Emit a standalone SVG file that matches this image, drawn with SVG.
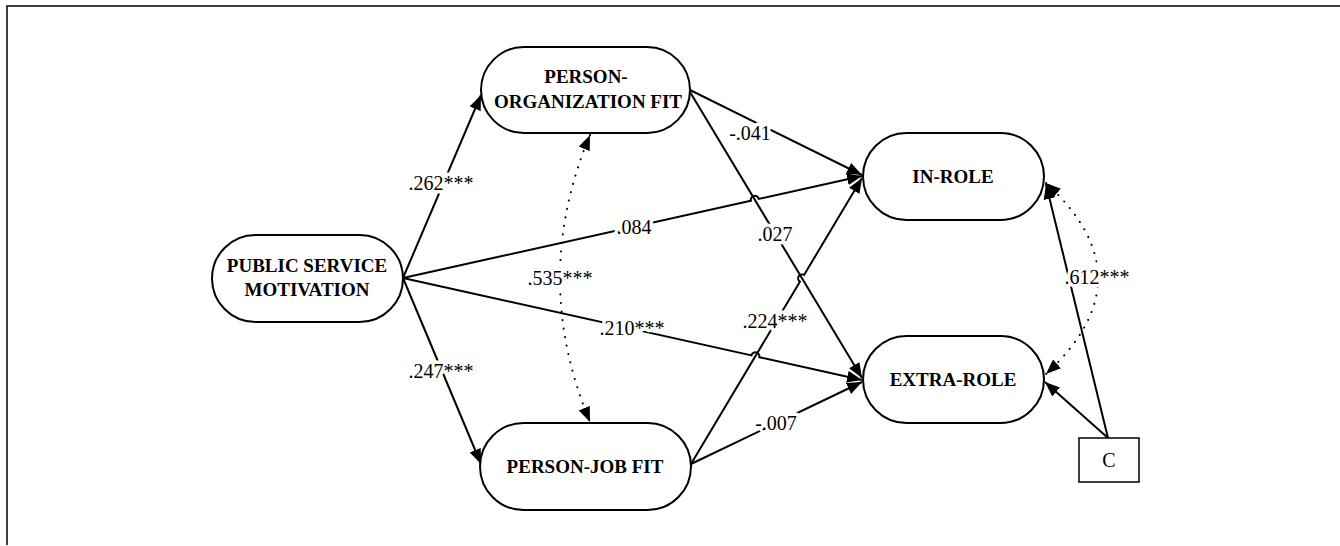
<svg xmlns="http://www.w3.org/2000/svg" width="1340" height="546" viewBox="0 0 1340 546">
<style>
.node{fill:#fff;stroke:#000;stroke-width:2}
.nt{font-family:"Liberation Serif","DejaVu Serif",serif;font-weight:bold;font-size:19px;text-anchor:middle;fill:#000}
.ct{font-family:"Liberation Serif","DejaVu Serif",serif;font-size:20px;text-anchor:middle;fill:#000}
.ln{fill:none;stroke:#000;stroke-width:2;marker-end:url(#ah)}
.dt{fill:none;stroke:#000;stroke-width:2;stroke-dasharray:0.1 8.5;stroke-linecap:round;marker-start:url(#ah2);marker-end:url(#ah2)}
.lb{font-family:"Liberation Serif","DejaVu Serif",serif;font-size:20px;text-anchor:middle;fill:#000;stroke:#fff;stroke-width:7;stroke-linejoin:round;paint-order:stroke}
</style>
<defs>
<marker id="ah" markerUnits="userSpaceOnUse" markerWidth="16" markerHeight="13" viewBox="0 0 16 13" refX="15" refY="6.5" orient="auto">
<path d="M0,0.5 L15,6.5 L0,12.5 z" fill="#000"/>
</marker>
<marker id="ah2" markerUnits="userSpaceOnUse" markerWidth="16" markerHeight="13" viewBox="0 0 16 13" refX="15" refY="6.5" orient="auto-start-reverse">
<path d="M0,0.5 L15,6.5 L0,12.5 z" fill="#000"/>
</marker>
</defs>
<rect width="1340" height="546" fill="#fff"/>
<path d="M7,545 V6 H1340" fill="none" stroke="#000" stroke-width="1.5"/>
<g id="connectors">
<path class="ln" d="M403,278 L481,95"/>
<path class="ln" d="M403,278 L481,464"/>
<path class="ln" d="M403,278 L750.9,200.7 A4,4 0 0 1 758.7,198.9 L862,176"/>
<path class="ln" d="M403,278 L751.5,355.4 A4,4 0 0 1 759.3,357.2 L862,380"/>
<path class="ln" d="M690,90 L862,175"/>
<path class="ln" d="M690,92 L862,378"/>
<path class="ln" d="M691,464 L799.9,281.7 A4,4 0 0 1 804.1,274.9 L862,178"/>
<path class="ln" d="M691,464 L862,382"/>
<path class="dt" d="M590,135 Q530,278 590,422"/>
<path class="dt" d="M1046,183 Q1150,278 1046,374"/>
<path class="ln" d="M1108,438 L1046,184"/>
<path class="ln" d="M1108,438 L1045,382"/>
<text class="lb" x="441" y="190">.262***</text>
<text class="lb" x="441" y="378">.247***</text>
<text class="lb" x="634" y="234">.084</text>
<text class="lb" x="632" y="335">.210***</text>
<text class="lb" x="560" y="285">.535***</text>
<text class="lb" x="750" y="140">-.041</text>
<text class="lb" x="775" y="241">.027</text>
<text class="lb" x="775" y="328">.224***</text>
<text class="lb" x="776" y="430">-.007</text>
<text class="lb" x="1097" y="284">.612***</text>
</g>
<g id="psm">
<rect class="node" x="212" y="235" width="191" height="87" rx="43.5"/>
<text class="nt" x="307" y="272">PUBLIC SERVICE</text>
<text class="nt" x="307" y="296">MOTIVATION</text>
</g>
<g id="po">
<rect class="node" x="481" y="47" width="209" height="86" rx="43"/>
<text class="nt" x="586" y="83">PERSON-</text>
<text class="nt" x="588" y="108">ORGANIZATION FIT</text>
</g>
<g id="pj">
<rect class="node" x="480" y="423" width="211" height="87" rx="43.5"/>
<text class="nt" x="585" y="473">PERSON-JOB FIT</text>
</g>
<g id="inrole">
<rect class="node" x="863" y="133" width="181" height="87" rx="43.5"/>
<text class="nt" x="953" y="183">IN-ROLE</text>
</g>
<g id="extrarole">
<rect class="node" x="863" y="336" width="181" height="87" rx="43.5"/>
<text class="nt" x="953" y="386">EXTRA-ROLE</text>
</g>
<g id="c">
<rect x="1079" y="438" width="60" height="44" fill="#fff" stroke="#000" stroke-width="1.5"/>
<text class="ct" x="1109" y="467">C</text>
</g>
</svg>
